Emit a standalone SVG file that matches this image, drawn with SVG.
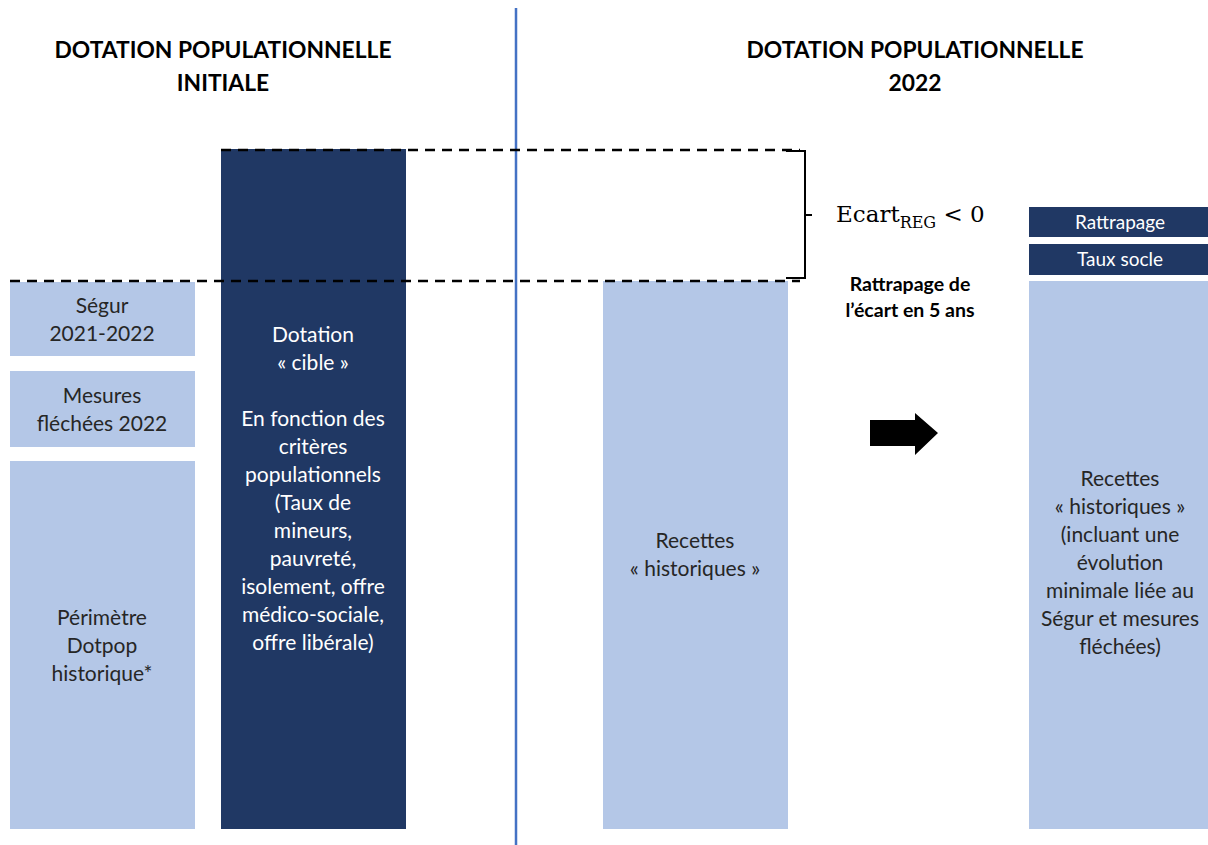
<svg xmlns="http://www.w3.org/2000/svg" width="1208" height="845" viewBox="0 0 1208 845">
<style>
.lt{fill:#b4c7e7}
.dk{fill:#203864}
.t{font-family:Lato,"Liberation Sans",sans-serif;font-size:21px;text-anchor:middle;fill:#262626}
.tw{font-family:Lato,"Liberation Sans",sans-serif;font-size:21px;text-anchor:middle;fill:#ffffff}
.s{font-size:19px}
.h{font-family:Lato,"Liberation Sans",sans-serif;font-size:22.8px;font-weight:bold;text-anchor:middle;fill:#000}
.b{font-family:Lato,"Liberation Sans",sans-serif;font-size:19.5px;font-weight:bold;text-anchor:middle;fill:#000}
.dash{stroke:#000;stroke-width:2.6;stroke-dasharray:10 7;fill:none}
</style>
<rect width="1208" height="845" fill="#fff"/>
<g id="titles">
<text class="h" x="223" y="58">DOTATION POPULATIONNELLE</text>
<text class="h" x="223" y="91">INITIALE</text>
<text class="h" x="915" y="58">DOTATION POPULATIONNELLE</text>
<text class="h" x="915" y="91">2022</text>
</g>
<line x1="516" y1="8" x2="516" y2="845" stroke="#4472c4" stroke-width="2.5"/>
<g id="segur"><rect class="lt" x="10" y="282" width="185" height="74"/>
<text class="t" x="102" y="313">Ségur</text><text class="t" x="102" y="341">2021-2022</text></g>
<g id="mesures"><rect class="lt" x="10" y="371" width="185" height="76"/>
<text class="t" x="102" y="403">Mesures</text><text class="t" x="102" y="431">fléchées 2022</text></g>
<g id="perimetre"><rect class="lt" x="10" y="461" width="185" height="368"/>
<text class="t" x="102" y="625">Périmètre</text><text class="t" x="102" y="653">Dotpop</text><text class="t" x="102" y="681">historique*</text></g>
<g id="cible"><rect class="dk" x="221" y="149" width="185" height="680"/>
<text class="tw" x="313" y="342">Dotation</text>
<text class="tw" x="313" y="370">« cible »</text>
<text class="tw" x="313" y="426">En fonction des</text>
<text class="tw" x="313" y="454">critères</text>
<text class="tw" x="313" y="482">populationnels</text>
<text class="tw" x="313" y="510">(Taux de</text>
<text class="tw" x="313" y="538">mineurs,</text>
<text class="tw" x="313" y="566">pauvreté,</text>
<text class="tw" x="313" y="594">isolement, offre</text>
<text class="tw" x="313" y="622">médico-sociale,</text>
<text class="tw" x="313" y="650">offre libérale)</text></g>
<g id="recettes1"><rect class="lt" x="603" y="281" width="185" height="548"/>
<text class="t" x="695" y="548">Recettes</text><text class="t" x="695" y="576">« historiques »</text></g>
<g id="rattrapage"><rect class="dk" x="1029" y="207" width="179" height="30"/>
<text class="tw s" x="1120" y="229">Rattrapage</text></g>
<g id="socle"><rect class="dk" x="1029" y="244" width="179" height="31"/>
<text class="tw s" x="1120" y="266">Taux socle</text></g>
<g id="recettes2"><rect class="lt" x="1029" y="281" width="179" height="548"/>
<text class="t" x="1120" y="486">Recettes</text>
<text class="t" x="1120" y="514">« historiques »</text>
<text class="t" x="1120" y="542">(incluant une</text>
<text class="t" x="1120" y="570">évolution</text>
<text class="t" x="1120" y="598">minimale liée au</text>
<text class="t" x="1120" y="626">Ségur et mesures</text>
<text class="t" x="1120" y="654">fléchées)</text></g>
<g id="connectors">
<line class="dash" x1="221" y1="150" x2="800" y2="150"/>
<line class="dash" x1="10" y1="281" x2="800" y2="281"/>
<path d="M786 151 H805 V215 L812 215 M805 215 V278 H786" fill="none" stroke="#000" stroke-width="2"/>
<polygon points="870,420 915,420 915,413 938,433 915,455 915,446 870,446" fill="#000"/>
</g>
<g id="ecart">
<text x="836" y="222" font-family="'DejaVu Serif','Liberation Serif',serif" font-size="23" fill="#000">Ecart<tspan font-size="16" dy="6">REG</tspan><tspan dy="-6"> &lt; 0</tspan></text>
<text class="b" x="910" y="291">Rattrapage de</text>
<text class="b" x="910" y="317">l’écart en 5 ans</text>
</g>
</svg>
